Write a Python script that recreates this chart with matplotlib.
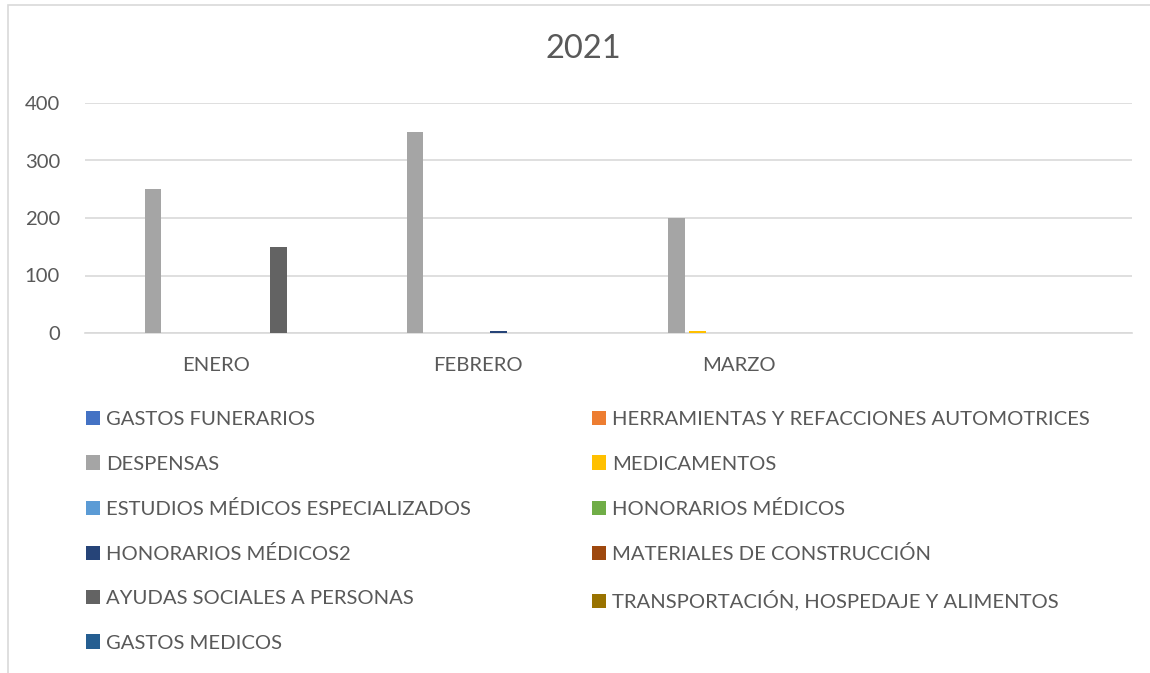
import numpy as np
import matplotlib
matplotlib.use("Agg")
import matplotlib.pyplot as plt
from matplotlib.patches import Patch, Rectangle

plt.rcParams["font.family"] = ["Lato", "DejaVu Sans"]

TITLE = "2021"
categories = ["ENERO", "FEBRERO", "MARZO", ""]
series = [
    "GASTOS FUNERARIOS",
    "HERRAMIENTAS Y REFACCIONES AUTOMOTRICES",
    "DESPENSAS",
    "MEDICAMENTOS",
    "ESTUDIOS MÉDICOS ESPECIALIZADOS",
    "HONORARIOS MÉDICOS",
    "HONORARIOS MÉDICOS2",
    "MATERIALES DE CONSTRUCCIÓN",
    "AYUDAS SOCIALES A PERSONAS",
    "TRANSPORTACIÓN, HOSPEDAJE Y ALIMENTOS",
    "GASTOS MEDICOS",
]
gastos_funerarios = [0, 0, 0, 0]
herramientas = [0, 0, 0, 0]
despensas = [250, 350, 200, 0]
medicamentos = [0, 0, 3, 0]
estudios = [0, 0, 0, 0]
honorarios = [0, 0, 0, 0]
honorarios2 = [0, 4, 0, 0]
materiales = [0, 0, 0, 0]
ayudas = [150, 0, 0, 0]
transportacion = [0, 0, 0, 0]
gastos_medicos = [0, 0, 0, 0]
values = [gastos_funerarios, herramientas, despensas, medicamentos, estudios, honorarios,
          honorarios2, materiales, ayudas, transportacion, gastos_medicos]
colors = ["#4472C4", "#ED7D31", "#A5A5A5", "#FFC000", "#5B9BD5", "#70AD47",
          "#264478", "#9E480E", "#636363", "#997300", "#255E91"]

TXT = "#595959"
GRID = "#D9D9D9"
FS = 14.6

fig = plt.figure(figsize=(11.5, 6.73), dpi=100)
ax = fig.add_axes([85 / 1150, 1 - 333 / 673, 1047 / 1150, 230 / 673])

x = np.arange(len(categories))
slot, bw = 0.0798, 0.063
n = len(series)
for i, (vals, c) in enumerate(zip(values, colors)):
    ax.bar(x + (i - (n - 1) / 2) * slot, vals, width=bw, color=c, linewidth=0, zorder=3)

ax.set_xlim(-0.5, len(categories) - 0.5)
ax.set_ylim(0, 400)
ax.set_yticks([0, 100, 200, 300, 400])
ax.set_xticks(x)
ax.set_xticklabels(categories)
ax.yaxis.grid(True, color=GRID, lw=1.2, zorder=0)
ax.tick_params(length=0, labelsize=FS, labelcolor=TXT)
ax.tick_params(axis="y", pad=18)
ax.tick_params(axis="x", pad=17)
for s in ["top", "right", "left"]:
    ax.spines[s].set_visible(False)
ax.spines["bottom"].set_color(GRID)
ax.spines["bottom"].set_linewidth(1.2)

fig.text(583 / 1150, 1 - 49 / 673, TITLE, ha="center", va="center", fontsize=23.5, color=TXT)

handles = [Patch(facecolor=c, edgecolor="none") for c in colors]
cols = [list(range(0, n, 2)), list(range(1, n, 2))]
for xs, idx in zip([86, 592], cols):
    fig.legend([handles[k] for k in idx], [series[k] for k in idx],
               loc="upper left", bbox_to_anchor=(xs / 1150, 1 - 411 / 673),
               frameon=False, borderpad=0, borderaxespad=0, fontsize=FS,
               handlelength=0.7, handleheight=0.7, handletextpad=0.3,
               labelspacing=1.34, labelcolor=TXT)

fig.patches.append(Rectangle((8 / 1150, -0.05), 1.2, 1.05 - 5 / 673, transform=fig.transFigure,
                             fill=False, edgecolor=GRID, lw=1.2))

fig.savefig("out.png", dpi=100)
